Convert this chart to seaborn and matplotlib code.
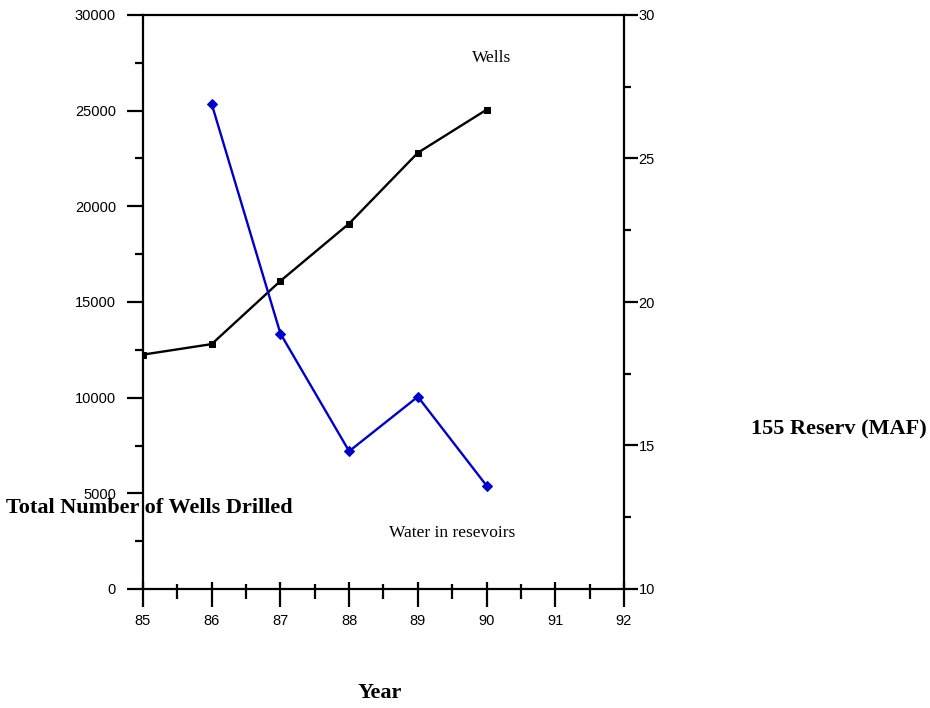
import numpy as np
import pandas as pd
import matplotlib
matplotlib.use("Agg")
import matplotlib.pyplot as plt
import seaborn as sns
from matplotlib.ticker import MultipleLocator

# données
years_wells = [85, 86, 87, 88, 89, 90]
wells = [12250, 12800, 16100, 19100, 22800, 25050]
years_water = [86, 87, 88, 89, 90]
water = [26.9, 18.9, 14.8, 16.7, 13.6]

sns.set_style("white")
plt.rcParams['font.family'] = ['Liberation Sans', 'DejaVu Sans']
plt.rcParams['text.color'] = 'black'
plt.rcParams['xtick.color'] = 'black'
plt.rcParams['ytick.color'] = 'black'

df_wells = pd.DataFrame({'year': years_wells, 'wells': wells})
df_water = pd.DataFrame({'year': years_water, 'water': water})

fig = plt.figure(figsize=(9.3, 7.08), dpi=100)
ax = fig.add_axes([143 / 930, 1 - 589 / 708, (624 - 143) / 930, (589 - 15) / 708])
ax2 = ax.twinx()

sns.lineplot(data=df_wells, x='year', y='wells', ax=ax, color='black', lw=1.7,
             marker='s', markersize=5, markeredgecolor='black')
sns.lineplot(data=df_water, x='year', y='water', ax=ax2, color='#0000cc', lw=1.7,
             marker='D', markersize=5, markeredgecolor='#0000cc')

ax.set_xlim(85, 92)
ax.set_ylim(0, 30000)
ax2.set_ylim(10, 30)

ax.set_xlabel('')
ax.set_ylabel('')
ax2.set_xlabel('')
ax2.set_ylabel('')

for a in (ax, ax2):
    for s in a.spines.values():
        s.set_visible(False)
for s in ['left', 'bottom', 'top']:
    ax.spines[s].set_visible(True)
    ax.spines[s].set_linewidth(1.6)
    ax.spines[s].set_color('black')
ax2.spines['right'].set_visible(True)
ax2.spines['right'].set_linewidth(1.6)
ax2.spines['right'].set_color('black')

ax.xaxis.set_major_locator(MultipleLocator(1))
ax.xaxis.set_minor_locator(MultipleLocator(0.5))
ax.yaxis.set_major_locator(MultipleLocator(5000))
ax.yaxis.set_minor_locator(MultipleLocator(2500))
ax2.yaxis.set_major_locator(MultipleLocator(5))
ax2.yaxis.set_minor_locator(MultipleLocator(2.5))

# graduations de l'axe x : partie extérieure
ax.tick_params(axis='x', which='major', direction='out', length=13, width=1.6,
               labelsize=10.5, pad=5, bottom=True, top=False)
ax.tick_params(axis='x', which='minor', direction='out', length=7.5, width=1.6,
               bottom=True, top=False)
# partie intérieure via l'axe jumeau
ax2.xaxis.set_visible(True)
ax2.xaxis.label.set_visible(False)
ax2.tick_params(axis='x', which='major', direction='in', length=5, width=1.6,
                bottom=True, top=False, labelbottom=False)
ax2.tick_params(axis='x', which='minor', direction='in', length=3.5, width=1.6,
                bottom=True, top=False, labelbottom=False)

ax.tick_params(axis='y', which='major', direction='out', length=11.5, width=1.6,
               labelsize=10.5, pad=8, left=True, right=False)
ax.tick_params(axis='y', which='minor', direction='out', length=6, width=1.6,
               left=True, right=False)
ax2.tick_params(axis='y', which='major', direction='out', length=10, width=1.6,
                labelsize=10.5, pad=0.5, right=True, left=False)
ax2.tick_params(axis='y', which='minor', direction='out', length=5, width=1.6,
                right=True, left=False)

ax.set_xticks(range(85, 93))
ax.set_xticklabels([str(v) for v in range(85, 93)])

serif = ['Liberation Serif', 'DejaVu Serif']
fig.text(492 / 930, 1 - 58 / 708, 'Wells', family=serif, fontsize=12.5,
         ha='center', va='center')
fig.text(452 / 930, 1 - 533 / 708, 'Water in resevoirs', family=serif,
         fontsize=12.5, ha='center', va='center')
fig.text(149 / 930, 1 - 508 / 708, 'Total Number of Wells Drilled', family=serif,
         fontsize=16, fontweight='bold', ha='center', va='center')
fig.text(839 / 930, 1 - 429 / 708, '155 Reserv (MAF)', family=serif,
         fontsize=16, fontweight='bold', ha='center', va='center')
fig.text(380 / 930, 1 - 693 / 708, 'Year', family=serif,
         fontsize=16, fontweight='bold', ha='center', va='center')

fig.savefig('out.png', dpi=100)
